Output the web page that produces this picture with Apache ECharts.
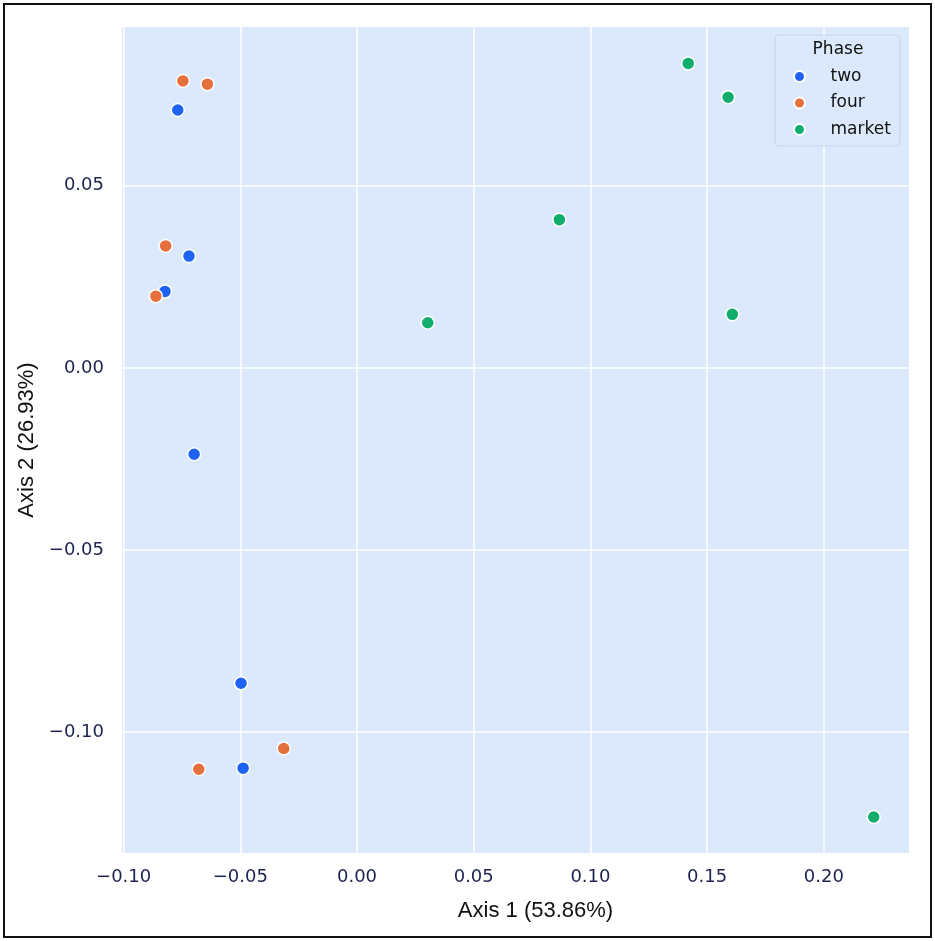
<!DOCTYPE html>
<html>
<head>
<meta charset="utf-8">
<script src="https://cdn.jsdelivr.net/npm/echarts@6/dist/echarts.min.js"></script>
<style>
  html, body { margin: 0; padding: 0; background: #fff; }
  #main { width: 935px; height: 941px; }
</style>
</head>
<body>
<div id="main"></div>
<script>
var myChart = echarts.init(document.getElementById('main'));

// PCoA coordinates, [axis1, axis2]
var two = [
    [-0.0768, 0.0708],
    [-0.0720, 0.0307],
    [-0.0823, 0.0210],
    [-0.0698, -0.0237],
    [-0.0497, -0.0866],
    [-0.0488, -0.1099]
];
var four = [
    [-0.0746, 0.0788],
    [-0.0641, 0.0779],
    [-0.0820, 0.0335],
    [-0.0862, 0.0197],
    [-0.0678, -0.1102],
    [-0.0314, -0.1045]
];
var market = [
    [0.1419, 0.0836],
    [0.1590, 0.0743],
    [0.0867, 0.0407],
    [0.0303, 0.0124],
    [0.1608, 0.0147],
    [0.2214, -0.1233]
];

var phases = ['two', 'four', 'market'];
var xTicks = [-0.10, -0.05, 0.00, 0.05, 0.10, 0.15, 0.20];
var yTicks = [-0.10, -0.05, 0.00, 0.05];

var colors = ['#1f63f5', '#e5703c', '#10ad6d'];
var tickColor = '#1e2250';

var fmt = function (v) {
    return v.toFixed(2).replace('-', '\u2212');
};

var makeSeries = function (name, data, i) {
    return {
        name: name,
        type: 'scatter',
        data: data,
        symbol: 'circle',
        symbolSize: 13,
        itemStyle: {
            color: colors[i],
            opacity: 1,
            borderColor: '#ffffff',
            borderWidth: 1.5
        },
        emphasis: { disabled: true }
    };
};

option = {
    animation: false,
    textStyle: { fontFamily: 'DejaVu Sans' },
    grid: {
        left: 122,
        top: 27,
        right: 26,
        bottom: 88,
        show: true,
        backgroundColor: '#dce9fc',
        borderWidth: 0
    },
    xAxis: {
        type: 'value',
        min: -0.1007,
        max: 0.2365,
        name: 'Axis 1 (53.86%)',
        nameLocation: 'middle',
        nameGap: 47,
        nameTextStyle: {
            fontSize: 22,
            fontFamily: 'Liberation Sans',
            color: '#111',
            padding: [0, 0, 0, 40]
        },
        axisLine: { show: false },
        axisTick: { show: false, customValues: xTicks },
        axisLabel: {
            customValues: xTicks,
            formatter: fmt,
            fontSize: 18,
            color: tickColor,
            margin: 15
        },
        splitLine: { show: true, lineStyle: { color: '#ffffff', width: 1.5 } }
    },
    yAxis: {
        type: 'value',
        min: -0.1332,
        max: 0.0936,
        name: 'Axis 2 (26.93%)',
        nameLocation: 'middle',
        nameGap: 78,
        nameTextStyle: {
            fontSize: 22,
            fontFamily: 'Liberation Sans',
            color: '#111'
        },
        axisLine: { show: false },
        axisTick: { show: false, customValues: yTicks },
        axisLabel: {
            customValues: yTicks,
            formatter: fmt,
            fontSize: 18,
            color: tickColor,
            margin: 18
        },
        splitLine: { show: true, lineStyle: { color: '#ffffff', width: 1.5 } }
    },
    legend: {
        data: phases,
        orient: 'vertical',
        left: 775,
        top: 35,
        padding: [33, 9, 8, 18],
        itemWidth: 20,
        itemHeight: 11,
        itemGap: 9.5,
        icon: 'circle',
        backgroundColor: 'rgba(220,233,252,0.85)',
        borderColor: '#c3d4f0',
        borderWidth: 1.2,
        borderRadius: 4,
        textStyle: { fontSize: 17, color: '#111', padding: [0, 0, 0, 16] }
    },
    graphic: [
        {
            type: 'text',
            x: 838,
            y: 41,
            style: {
                text: 'Phase',
                fontSize: 17,
                fontFamily: 'DejaVu Sans',
                fill: '#111',
                textAlign: 'center'
            },
            z: 100
        },
        {
            type: 'rect',
            shape: { x: 4, y: 4, width: 927, height: 933 },
            style: { fill: 'none', stroke: '#111', lineWidth: 2 },
            silent: true,
            z: 100
        }
    ],
    series: [
        makeSeries('two', two, 0),
        makeSeries('four', four, 1),
        makeSeries('market', market, 2)
    ]
};

myChart.setOption(option);
</script>
</body>
</html>
